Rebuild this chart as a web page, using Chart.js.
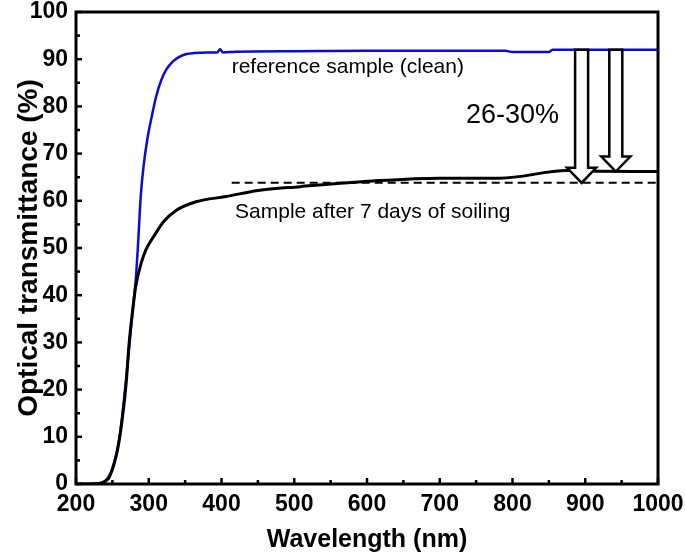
<!DOCTYPE html>
<html>
<head>
<meta charset="utf-8">
<title>Optical transmittance</title>
<script src="https://cdn.jsdelivr.net/npm/chart.js@4/dist/chart.umd.min.js"></script>
<style>
  html, body { margin: 0; padding: 0; background: #fff; }
  #wrap { width: 685px; height: 556px; position: relative; }
</style>
</head>
<body>
<div id="wrap"><canvas id="spectra-chart"></canvas></div>
<script>
// Clean reference sample (blue)
const cleanWl = [200, 220, 230, 240, 250, 260, 270, 278, 282, 285, 289, 293, 298, 305, 310, 317, 324, 333, 342, 352, 362, 380, 394, 398, 402, 420, 500, 600, 700, 790, 800, 850, 855, 900, 1000];
const cleanT  = [0, 0, 0.1, 0.6, 3.3, 10, 24, 37, 43, 50, 61, 67.5, 73, 78.5, 82, 85.5, 87.8, 89.5, 90.5, 91.1, 91.3, 91.4, 91.4, 92.1, 91.4, 91.6, 91.7, 91.8, 91.8, 91.8, 91.5, 91.5, 92.0, 92.0, 92.0];

// Sample after 7 days of soiling (black)
const soiledWl = [200, 220, 232, 240, 246, 257, 264, 269, 273, 278, 282, 290, 296, 310, 320, 338, 365, 406, 450, 508, 608, 700, 783, 875, 900, 1000];
const soiledT  = [0, 0, 0.1, 0.6, 1.5, 7.2, 14.3, 21.4, 29.8, 36.9, 41.8, 47, 49.6, 53.2, 55.5, 58, 59.8, 60.9, 62.2, 63.0, 64.2, 64.8, 64.8, 66.4, 66.3, 66.2];

// dashed guide level
const dashWl = [414, 1000];
const dashT  = [63.8, 63.8];

// drop arrows (from clean level down to soiled level)
const arrowWl  = [895, 942];
const arrowTop = [92, 92];
const arrowTip = [63.8, 66.2];

const xTicks = [200, 300, 400, 500, 600, 700, 800, 900, 1000];
const yTicks = [0, 10, 20, 30, 40, 50, 60, 70, 80, 90, 100];

const FONT = "'Liberation Sans', Arial, sans-serif";

function pairs(xs, ys) {
    return xs.map((x, i) => ({ x: x, y: ys[i] }));
}

// frame, inward ticks, arrows and text notes
const decorPlugin = {
    id: 'decor',
    afterDatasetsDraw(chart) {
        const ctx = chart.ctx;
        const a = chart.chartArea;
        const xs = chart.scales.x;
        const ys = chart.scales.y;
        ctx.save();

        // arrows
        ctx.lineWidth = 2.5;
        ctx.strokeStyle = '#000';
        ctx.fillStyle = '#fff';
        arrowWl.forEach((wl, i) => {
            const cx = xs.getPixelForValue(wl);
            const top = ys.getPixelForValue(arrowTop[i]);
            const tip = ys.getPixelForValue(arrowTip[i]);
            const sw = 6.5, hw = 14.5, hh = 15;
            ctx.beginPath();
            ctx.moveTo(cx - sw, top);
            ctx.lineTo(cx + sw, top);
            ctx.lineTo(cx + sw, tip - hh);
            ctx.lineTo(cx + hw, tip - hh);
            ctx.lineTo(cx, tip);
            ctx.lineTo(cx - hw, tip - hh);
            ctx.lineTo(cx - sw, tip - hh);
            ctx.closePath();
            ctx.fill();
            ctx.stroke();
        });

        // text notes
        ctx.fillStyle = '#000';
        ctx.textBaseline = 'alphabetic';
        ctx.textAlign = 'left';
        ctx.font = '21px ' + FONT;
        ctx.fillText('reference sample (clean)', xs.getPixelForValue(414), ys.getPixelForValue(87.1));
        ctx.fillText('Sample after 7 days of soiling', xs.getPixelForValue(418.6), ys.getPixelForValue(56.4));
        ctx.font = '27px ' + FONT;
        ctx.fillText('26-30%', xs.getPixelForValue(736), ys.getPixelForValue(76.5));

        // inward tick marks
        ctx.strokeStyle = '#000';
        ctx.lineWidth = 2.5;
        for (let v = 200; v <= 1000; v += 50) {
            const px = xs.getPixelForValue(v);
            const len = v % 100 === 0 ? 6 : 4;
            ctx.beginPath();
            ctx.moveTo(px, a.bottom);
            ctx.lineTo(px, a.bottom - len);
            ctx.stroke();
        }
        for (let v = 0; v <= 100; v += 5) {
            const py = ys.getPixelForValue(v);
            const len = v % 10 === 0 ? 6 : 4;
            ctx.beginPath();
            ctx.moveTo(a.left, py);
            ctx.lineTo(a.left + len, py);
            ctx.stroke();
        }

        // frame
        ctx.lineWidth = 3;
        ctx.strokeRect(a.left, a.top, a.right - a.left, a.bottom - a.top);
        ctx.restore();
    }
};

document.addEventListener('DOMContentLoaded', function() {
    const ctx = document.getElementById('spectra-chart').getContext('2d');

    new Chart(ctx, {
        type: 'line',
        data: {
            datasets: [
                {
                    label: 'Sample after 7 days of soiling',
                    data: pairs(soiledWl, soiledT),
                    borderColor: '#000000',
                    borderWidth: 3,
                    pointRadius: 0,
                    cubicInterpolationMode: 'monotone',
                    order: 0
                },
                {
                    label: 'reference sample (clean)',
                    data: pairs(cleanWl, cleanT),
                    borderColor: '#0a0adc',
                    borderWidth: 2.5,
                    pointRadius: 0,
                    cubicInterpolationMode: 'monotone',
                    order: 1
                },
                {
                    label: 'level',
                    data: pairs(dashWl, dashT),
                    borderColor: '#000000',
                    borderWidth: 2,
                    borderDash: [8, 5],
                    pointRadius: 0,
                    order: 2
                }
            ]
        },
        options: {
            responsive: true,
            maintainAspectRatio: false,
            animation: false,
            layout: { padding: { left: 0, right: 27, top: 12, bottom: 0 } },
            plugins: {
                legend: { display: false },
                tooltip: { enabled: false }
            },
            scales: {
                x: {
                    type: 'linear',
                    min: 200,
                    max: 1000,
                    afterBuildTicks: (scale) => { scale.ticks = xTicks.map(v => ({ value: v })); },
                    afterFit: (scale) => {
                        scale.height = 72;
                        scale.paddingLeft = 0;
                        scale.paddingRight = 0;
                    },
                    grid: { display: false, drawTicks: false },
                    border: { display: false },
                    ticks: {
                        color: '#000',
                        padding: 9,
                        maxRotation: 0,
                        callback: (v) => String(v),
                        font: { family: FONT, size: 23, weight: 'bold', lineHeight: 1 }
                    },
                    title: {
                        display: true,
                        text: 'Wavelength (nm)',
                        color: '#000',
                        padding: { top: 0, bottom: 1 },
                        font: { family: FONT, size: 25, weight: 'bold' }
                    }
                },
                y: {
                    type: 'linear',
                    min: 0,
                    max: 100,
                    afterBuildTicks: (scale) => { scale.ticks = yTicks.map(v => ({ value: v })); },
                    afterFit: (scale) => {
                        scale.width = 76;
                        scale.paddingTop = 0;
                        scale.paddingBottom = 0;
                    },
                    grid: { display: false, drawTicks: false },
                    border: { display: false },
                    ticks: {
                        color: '#000',
                        padding: 8,
                        callback: (v) => String(v),
                        font: { family: FONT, size: 23, weight: 'bold', lineHeight: 1 }
                    },
                    title: {
                        display: true,
                        text: 'Optical transmittance (%)',
                        color: '#000',
                        padding: { top: 12, bottom: 12 },
                        font: { family: FONT, size: 28, weight: 'bold' }
                    }
                }
            }
        },
        plugins: [decorPlugin]
    });
});
</script>
</body>
</html>
